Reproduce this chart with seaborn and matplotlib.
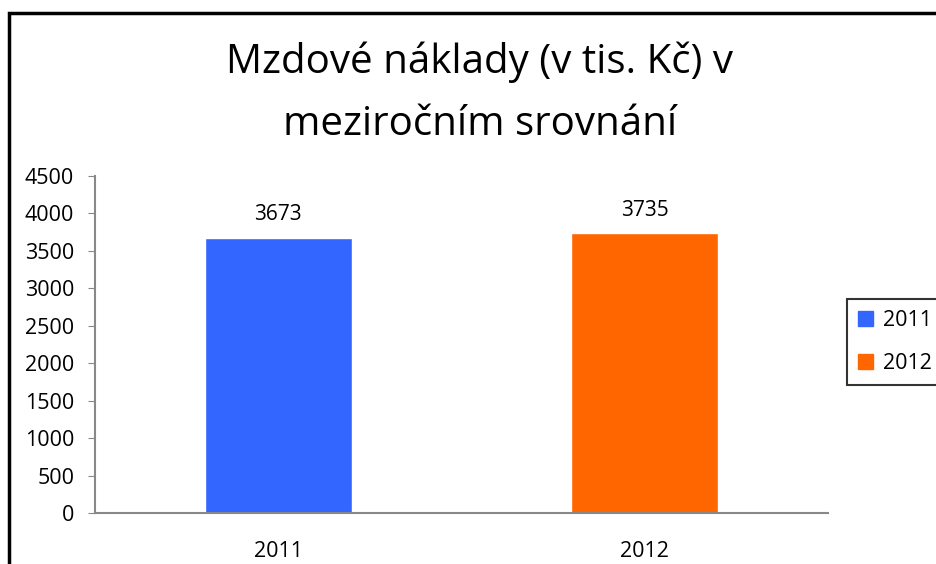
import matplotlib
matplotlib.use("Agg")
import matplotlib.pyplot as plt
import seaborn as sns
import pandas as pd
from matplotlib.patches import Rectangle

years = ["2011", "2012"]
costs = [3673, 3735]
colors = ["#3366FF", "#FF6600"]

sns.set_style("white")
plt.rcParams['font.family'] = ['Open Sans', 'DejaVu Sans']
plt.rcParams['text.color'] = "black"
plt.rcParams['xtick.color'] = "black"
plt.rcParams['ytick.color'] = "black"

df = pd.DataFrame({"Rok": years, "Naklady": costs})

fig = plt.figure(figsize=(9.37, 5.64), dpi=100)
ax = fig.add_axes([95 / 937, 1 - 513 / 564, 733 / 937, 337 / 564])

sns.barplot(data=df, x="Rok", y="Naklady", hue="Rok", palette=colors,
            width=0.4, dodge=False, legend=False, ax=ax, saturation=1)

for i, v in enumerate(costs):
    ax.text(i, v + 170, str(v), ha="center", va="bottom", fontsize=15)

ax.set_ylim(0, 4500)
ax.set_yticks(range(0, 4501, 500))
ax.set_xlim(-0.5, 1.5)
ax.set_xlabel("")
ax.set_ylabel("")
ax.tick_params(axis="y", labelsize=15.5, length=5, color="#888888", labelcolor="black",
               direction="out", left=True, pad=10)
ax.tick_params(axis="x", labelsize=15.5, length=0, labelcolor="black", pad=20)
for s in ["top", "right"]:
    ax.spines[s].set_visible(False)
for s in ["left", "bottom"]:
    ax.spines[s].set_color("#888888")
    ax.spines[s].set_linewidth(1.5)

fig.text(480 / 937, 1 - 93 / 564, "Mzdové náklady (v tis. Kč) v\nmeziročním srovnání",
         ha="center", va="center", fontsize=29, linespacing=1.7, color="black")

# legend
handles = [Rectangle((0, 0), 1, 1, color=c) for c in colors]
leg = fig.legend(handles, years, loc="upper left", bbox_to_anchor=(847 / 937, 1 - 299 / 564),
                 fontsize=15.5, frameon=True, fancybox=False, handlelength=0.7, handleheight=0.7,
                 handletextpad=0.45, labelspacing=1.05, borderpad=0.5, borderaxespad=0)
leg.get_frame().set_edgecolor("black")
leg.get_frame().set_linewidth(1.5)

# chart frame
fig.add_artist(Rectangle((9 / 937, -0.1), 1.2, 1 - 13 / 564 + 0.1, transform=fig.transFigure,
                         fill=False, edgecolor="black", linewidth=2.5))

fig.savefig("out.png", dpi=100)
